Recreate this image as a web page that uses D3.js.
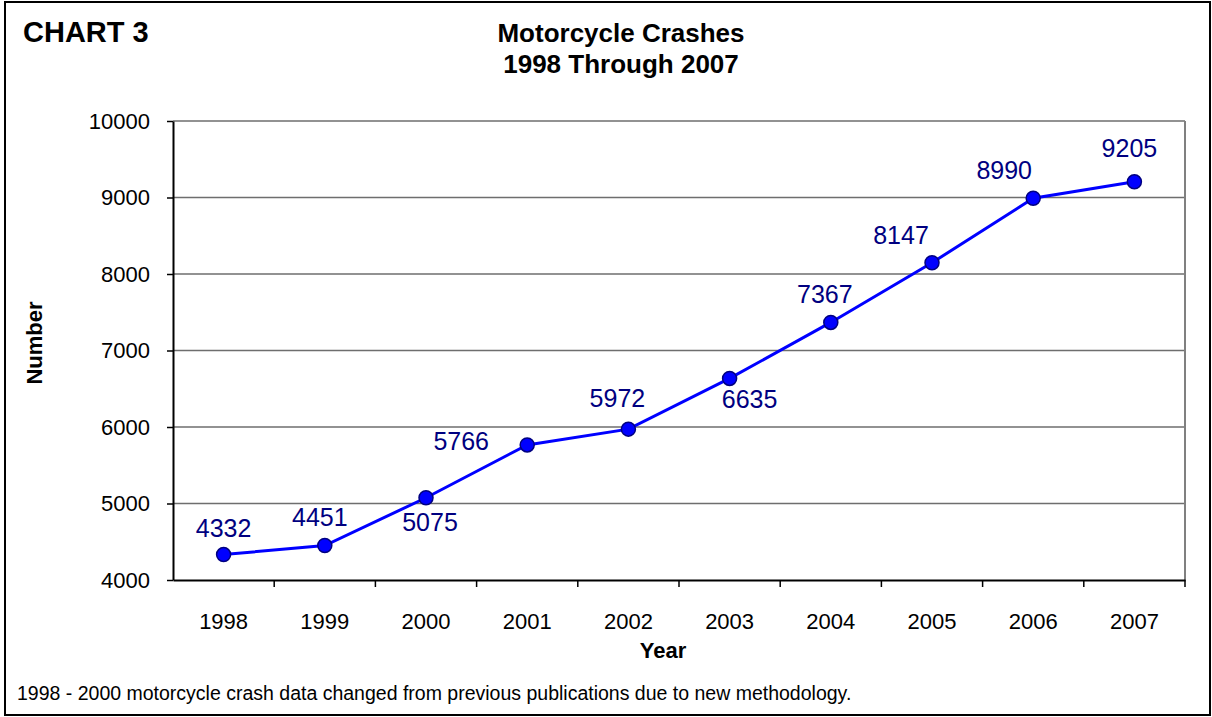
<!DOCTYPE html>
<html>
<head>
<meta charset="utf-8">
<title>Motorcycle Crashes</title>
<script src="https://cdn.jsdelivr.net/npm/d3@7"></script>
<style>
    body { margin: 0; background: #fff; }
    svg { display: block; font-family: "Liberation Sans", Arial, sans-serif; }
</style>
</head>
<body>
<div id="chart"></div>
<script>
var years = ["1998", "1999", "2000", "2001", "2002", "2003", "2004", "2005", "2006", "2007"];
var crashes = [4332, 4451, 5075, 5766, 5972, 6635, 7367, 8147, 8990, 9205];
var yTicks = [4000, 5000, 6000, 7000, 8000, 9000, 10000];

// label nudges [dx, dy] from the point, as placed in the original
var labelNudge = [[0, -26], [-5, -28], [4, 24], [-66, -4], [-11, -31],
    [20, 21], [-6, -28], [-31, -28], [-29, -28], [-5, -34]];

var width = 1212, height = 717;
var plot = {left: 173, top: 121, right: 1185, bottom: 580};

var svg = d3.select("#chart").append("svg")
    .attr("width", width)
    .attr("height", height);

// outer frame
svg.append("rect")
    .attr("x", 5).attr("y", 2)
    .attr("width", 1205).attr("height", 713)
    .attr("fill", "none")
    .attr("stroke", "#000")
    .attr("stroke-width", 2);

var x = d3.scaleBand().domain(years).range([plot.left, plot.right]);
var y = d3.scaleLinear().domain([4000, 10000]).range([plot.bottom, plot.top]);

// gridlines
svg.append("g").selectAll("line")
    .data(yTicks.slice(1))
    .enter().append("line")
    .attr("x1", plot.left).attr("x2", plot.right)
    .attr("y1", function (d) { return y(d); })
    .attr("y2", function (d) { return y(d); })
    .attr("stroke", "#6e6e6e")
    .attr("stroke-width", 1.5);

// right frame edge
svg.append("line")
    .attr("x1", plot.right).attr("x2", plot.right)
    .attr("y1", plot.top).attr("y2", plot.bottom)
    .attr("stroke", "#808080").attr("stroke-width", 2);

var yAxis = svg.append("g")
    .attr("transform", "translate(" + plot.left + ",0)")
    .call(d3.axisLeft(y).tickValues(yTicks).tickFormat(d3.format("d"))
        .tickSize(6).tickPadding(17).tickSizeOuter(0));

var xAxis = svg.append("g")
    .attr("transform", "translate(0," + plot.bottom + ")")
    .call(d3.axisBottom(x).tickSize(0).tickPadding(33));

// category boundary ticks
svg.append("g").selectAll("line")
    .data(years)
    .enter().append("line")
    .attr("x1", function (d) { return x(d) + x.bandwidth(); })
    .attr("x2", function (d) { return x(d) + x.bandwidth(); })
    .attr("y1", plot.bottom).attr("y2", plot.bottom + 7)
    .attr("stroke", "#000").attr("stroke-width", 1.5);

[yAxis, xAxis].forEach(function (g) {
    g.select(".domain").attr("stroke", "#000").attr("stroke-width", 2);
    g.selectAll(".tick line").attr("stroke", "#000").attr("stroke-width", 1.5);
    g.selectAll(".tick text")
        .attr("font-family", "Liberation Sans, Arial, sans-serif")
        .attr("font-size", "22px")
        .attr("fill", "#000");
});

// series line
var line = d3.line()
    .x(function (d, i) { return x(years[i]) + x.bandwidth() / 2; })
    .y(function (d) { return y(d); });

svg.append("path")
    .datum(crashes)
    .attr("d", line)
    .attr("fill", "none")
    .attr("stroke", "#0000ff")
    .attr("stroke-width", 3);

svg.append("g").selectAll("circle")
    .data(crashes)
    .enter().append("circle")
    .attr("cx", function (d, i) { return x(years[i]) + x.bandwidth() / 2; })
    .attr("cy", function (d) { return y(d); })
    .attr("r", 7)
    .attr("fill", "#0000ff")
    .attr("stroke", "#000080")
    .attr("stroke-width", 1.5);

svg.append("g").selectAll("text")
    .data(crashes)
    .enter().append("text")
    .attr("x", function (d, i) { return x(years[i]) + x.bandwidth() / 2 + labelNudge[i][0]; })
    .attr("y", function (d, i) { return y(d) + labelNudge[i][1]; })
    .attr("dy", "0.35em")
    .attr("text-anchor", "middle")
    .attr("font-size", "25px")
    .attr("fill", "#000080")
    .text(function (d) { return d; });

// titles
svg.append("text")
    .attr("x", 23).attr("y", 42)
    .attr("font-size", "29px").attr("font-weight", "bold")
    .text("CHART 3");

svg.append("text")
    .attr("x", 621).attr("y", 42)
    .attr("text-anchor", "middle")
    .attr("font-size", "26px").attr("font-weight", "bold")
    .text("Motorcycle Crashes");

svg.append("text")
    .attr("x", 621).attr("y", 73)
    .attr("text-anchor", "middle")
    .attr("font-size", "26px").attr("font-weight", "bold")
    .text("1998 Through 2007");

svg.append("text")
    .attr("transform", "translate(42,343) rotate(-90)")
    .attr("text-anchor", "middle")
    .attr("font-size", "22px").attr("font-weight", "bold")
    .text("Number");

svg.append("text")
    .attr("x", 663).attr("y", 658)
    .attr("text-anchor", "middle")
    .attr("font-size", "22px").attr("font-weight", "bold")
    .text("Year");

svg.append("text")
    .attr("x", 17).attr("y", 700)
    .attr("font-size", "19.5px")
    .text("1998 - 2000 motorcycle crash data changed from previous publications due to new methodology.");
</script>
</body>
</html>
